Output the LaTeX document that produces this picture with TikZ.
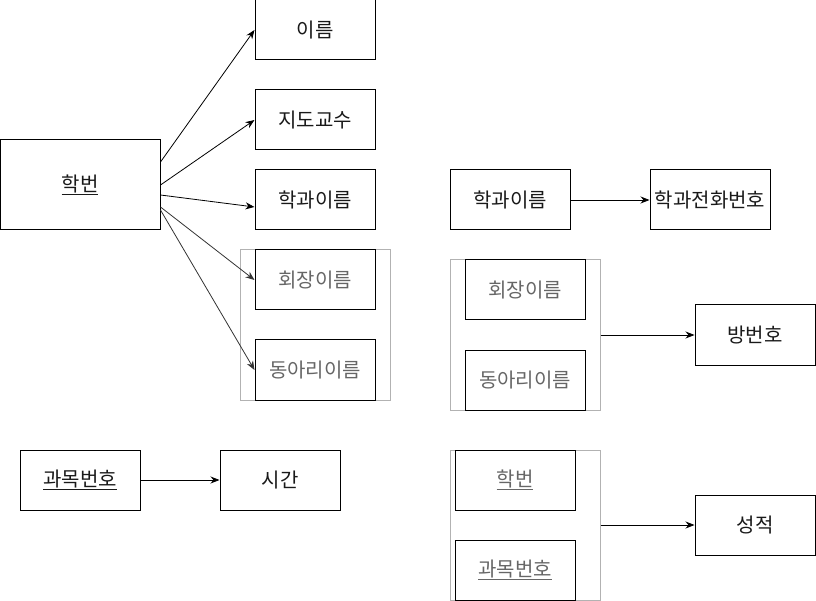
\documentclass[tikz,border=0pt]{standalone}
\usepackage{fontspec}
\setmainfont{Noto Sans CJK KR}
\usetikzlibrary{arrows.meta}
\begin{document}
\begin{tikzpicture}[x=1pt,y=-1pt,
  box/.style={draw=black, line width=1pt, minimum width=120pt, minimum height=60pt, inner sep=0pt, font=\fontsize{20}{22}\selectfont, text=black!90},
  bigbox/.style={box, minimum width=160pt, minimum height=90pt},
  grp/.style={draw=black!30, line width=1pt, minimum width=150pt, minimum height=150pt, inner sep=0pt},
  gtext/.style={text=black!60},
  arr/.style={line width=0.8pt, -{Stealth[length=9pt,width=7pt]}},
  garr/.style={arr, draw=black!80}]
\useasboundingbox (0,0) rectangle (816,601);
% groups
\node[grp] (g1) at (315,325) {};
\node[grp] (g2) at (525,335) {};
\node[grp] (g3) at (525,525) {};
% nodes
\node[bigbox] (hb) at (80,185) {\raisebox{2pt}{\underline{학번}}};
\node[box] (ir) at (315,30) {\raisebox{2pt}{이름}};
\node[box] (jd) at (315,120) {\raisebox{2pt}{지도교수}};
\node[box] (hg1) at (315,200) {\raisebox{2pt}{학과이름}};
\node[box, gtext] (hj1) at (315,280) {\raisebox{2pt}{회장이름}};
\node[box, gtext] (dr1) at (315,370) {\raisebox{2pt}{동아리이름}};
\node[box] (hg2) at (510,200) {\raisebox{2pt}{학과이름}};
\node[box] (ph) at (710,200) {\raisebox{2pt}{학과전화번호}};
\node[box, gtext] (hj2) at (525,290) {\raisebox{2pt}{회장이름}};
\node[box, gtext] (dr2) at (525,380) {\raisebox{2pt}{동아리이름}};
\node[box] (bb) at (755,335) {\raisebox{2pt}{방번호}};
\node[box] (gm) at (80,480) {\raisebox{2pt}{\underline{과목번호}}};
\node[box] (sg) at (280,480) {\raisebox{2pt}{시간}};
\node[box, gtext] (hb2) at (515,480) {\raisebox{2pt}{\underline{학번}}};
\node[box, gtext] (gm2) at (515,570) {\raisebox{2pt}{\underline{과목번호}}};
\node[box] (sj) at (755,525) {\raisebox{2pt}{성적}};
% arrows
\draw[arr] ([yshift=23pt]hb.east) -- (ir.west);
\draw[arr] (hb.east) -- (jd.west);
\draw[arr] ([yshift=-10pt]hb.east) -- ([yshift=-7pt]hg1.west);
\draw[garr] ([yshift=-22pt]hb.east) -- (hj1.west);
\draw[garr] ([yshift=-25pt]hb.east) -- (dr1.west);
\draw[arr] (hg2.east) -- (ph.west);
\draw[arr] (g2.east) -- (bb.west);
\draw[arr] (gm.east) -- (sg.west);
\draw[arr] (g3.east) -- (sj.west);
\end{tikzpicture}
\end{document}
